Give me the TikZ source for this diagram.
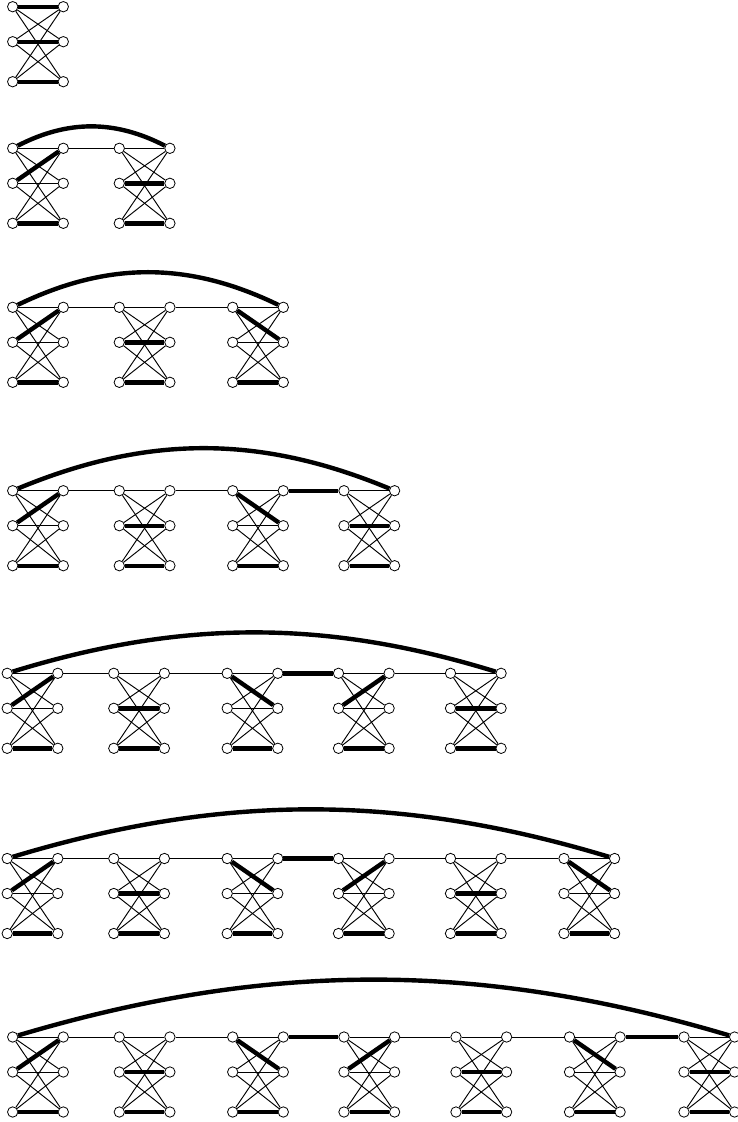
\documentclass[tikz,border=0pt]{standalone}
\pgfdeclarelayer{bg}
\pgfsetlayers{bg,main}
\tikzset{
  vtx/.style={circle,draw=black,fill=white,inner sep=0pt,minimum size=10.4pt,line width=0.8pt},
  thinedge/.style={line width=0.95pt,draw=black},
  thickedge/.style={line width=4.4pt,draw=black},
  arcedge/.style={line width=4.4pt,draw=black},
}
\newcommand\gad[4]{%
  \node[vtx] (#1L1) at (#2,#3) {};
  \node[vtx] (#1L2) at (#2,#3+35) {};
  \node[vtx] (#1L3) at (#2,#3+75) {};
  \node[vtx] (#1R1) at (#2+50.6,#3) {};
  \node[vtx] (#1R2) at (#2+50.6,#3+35) {};
  \node[vtx] (#1R3) at (#2+50.6,#3+75) {};
  \begin{pgfonlayer}{bg}
    \foreach \i in {1,2,3}{\foreach \j in {1,2,3}{\draw[thinedge] (#1L\i) -- (#1R\j);}}
    \draw[thickedge] (#1L3) -- (#1R3);
    \foreach \a/\b in {#4}{\draw[thickedge] (#1L\a) -- (#1R\b);}
  \end{pgfonlayer}
}
\newcommand\lnk[3]{\begin{pgfonlayer}{bg}\draw[#3] (#1R1) -- (#2L1);\end{pgfonlayer}}
\newcommand\bigarc[4]{\begin{pgfonlayer}{bg}\draw[arcedge] (#1L1) .. controls +(#3,-#4) and +(-#3,-#4) .. (#2R1);\end{pgfonlayer}}
\begin{document}
\begin{tikzpicture}[x=1pt,y=-1pt]
\useasboundingbox (0,0) rectangle (737,1122);
% row 1
\gad{a1}{12.7}{6.7}{1/1,2/2}
% row 2
\gad{b1}{12.7}{148.3}{2/1}
\gad{b2}{119.3}{148.3}{2/2}
\lnk{b1}{b2}{thinedge}
\bigarc{b1}{b2}{55}{28.4}
% row 3
\gad{c1}{12.7}{307.3}{2/1}
\gad{c2}{119.3}{307.3}{2/2}
\gad{c3}{232.7}{307.3}{1/2}
\lnk{c1}{c2}{thinedge}
\lnk{c2}{c3}{thinedge}
\bigarc{c1}{c3}{95}{46}
% row 4
\gad{d1}{12.7}{490.7}{2/1}
\gad{d2}{119.3}{490.7}{2/2}
\gad{d3}{232.7}{490.7}{1/2}
\gad{d4}{344}{490.7}{2/2}
\lnk{d1}{d2}{thinedge}
\lnk{d2}{d3}{thinedge}
\lnk{d3}{d4}{thickedge}
\bigarc{d1}{d4}{135}{56}
% row 5
\gad{e1}{7.2}{673.3}{2/1}
\gad{e2}{113.8}{673.3}{2/2}
\gad{e3}{227.2}{673.3}{1/2}
\gad{e4}{338.5}{673.3}{2/1}
\gad{e5}{450.5}{673.3}{2/2}
\lnk{e1}{e2}{thinedge}
\lnk{e2}{e3}{thinedge}
\lnk{e3}{e4}{thickedge}
\lnk{e4}{e5}{thinedge}
\bigarc{e1}{e5}{175}{54}
% row 6
\gad{f1}{7.2}{858.5}{2/1}
\gad{f2}{113.8}{858.5}{2/2}
\gad{f3}{227.2}{858.5}{1/2}
\gad{f4}{338.5}{858.5}{2/1}
\gad{f5}{450.5}{858.5}{2/2}
\gad{f6}{564}{858.5}{1/2}
\lnk{f1}{f2}{thinedge}
\lnk{f2}{f3}{thinedge}
\lnk{f3}{f4}{thickedge}
\lnk{f4}{f5}{thinedge}
\lnk{f5}{f6}{thinedge}
\bigarc{f1}{f6}{215}{65}
% row 7
\gad{g1}{12.7}{1037}{2/1}
\gad{g2}{119.3}{1037}{2/2}
\gad{g3}{232.7}{1037}{1/2}
\gad{g4}{344}{1037}{2/1}
\gad{g5}{456}{1037}{2/2}
\gad{g6}{569.5}{1037}{1/2}
\gad{g7}{684}{1037}{2/2}
\lnk{g1}{g2}{thinedge}
\lnk{g2}{g3}{thinedge}
\lnk{g3}{g4}{thickedge}
\lnk{g4}{g5}{thinedge}
\lnk{g5}{g6}{thinedge}
\lnk{g6}{g7}{thickedge}
\bigarc{g1}{g7}{255}{76}
\end{tikzpicture}
\end{document}
